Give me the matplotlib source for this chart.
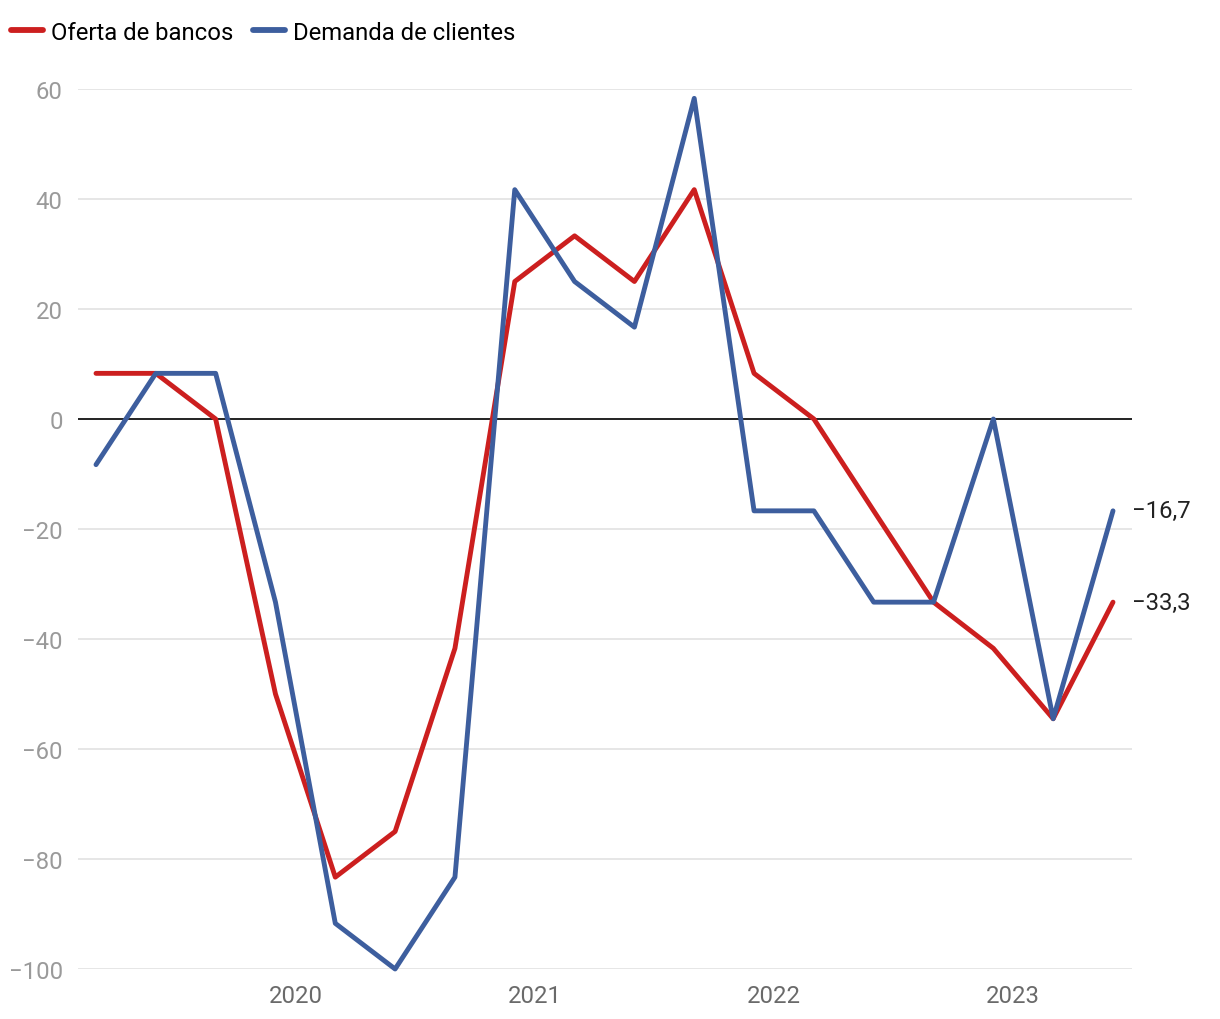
#!/usr/bin/env python3
"""Oferta de bancos vs demanda de clientes, quarterly balance (2019-2023)."""
import matplotlib
matplotlib.use("Agg")
import matplotlib.pyplot as plt

# quarterly observations, first point in early 2019
start_year = 2019 + 2 / 12
oferta = [8.3, 8.3, 0, -50, -83.3, -75, -41.7, 25, 33.3, 25, 41.7,
          8.3, 0, -16.7, -33.3, -41.7, -54.5, -33.3]
demanda = [-8.3, 8.3, 8.3, -33.3, -91.7, -100, -83.3, 41.7, 25, 16.7, 58.3,
           -16.7, -16.7, -33.3, -33.3, 0, -54.5, -16.7]
years = [2020, 2021, 2022, 2023]
yticks = [-100, -80, -60, -40, -20, 0, 20, 40, 60]

RED = "#cc1f1f"
BLUE = "#3d5e9e"
FS = 17.2

plt.rcParams["font.family"] = ["Roboto", "DejaVu Sans"]

x = [start_year + 0.25 * i for i in range(len(oferta))]

fig = plt.figure(figsize=(12.2, 10.2), dpi=100)
ax = fig.add_axes([78 / 1220, 1 - 970 / 1020, (1132 - 78) / 1220, (970 - 90) / 1020])

for v in yticks:
    if v == 0:
        continue
    ax.axhline(v, color="#e2e2e2", lw=1.2, zorder=1)
ax.axhline(0, color="#111111", lw=1.3, zorder=2)

ax.plot(x, oferta, color=RED, lw=3.5, label="Oferta de bancos",
        solid_capstyle="round", solid_joinstyle="round", zorder=3, clip_on=False)
ax.plot(x, demanda, color=BLUE, lw=3.5, label="Demanda de clientes",
        solid_capstyle="round", solid_joinstyle="round", zorder=4, clip_on=False)

def fmt(v):
    return f"{v:.1f}".replace(".", ",").replace("-", "\u2212")

ax.annotate(fmt(demanda[-1]), (x[-1], demanda[-1]), xytext=(14, 0),
            textcoords="offset points", va="center", ha="left",
            fontsize=FS, color="#222222")
ax.annotate(fmt(oferta[-1]), (x[-1], oferta[-1]), xytext=(14, 0),
            textcoords="offset points", va="center", ha="left",
            fontsize=FS, color="#222222")

ax.set_ylim(-100, 60)
span = 0.25 * (len(x) - 1)
px = span / (1113 - 96)
ax.set_xlim(x[0] - 18 * px, x[-1] + 19 * px)

ax.set_yticks(yticks)
ax.set_yticklabels([str(v).replace("-", "\u2212") for v in yticks])
ax.set_xticks(years)
ax.set_xticklabels([str(y) for y in years])
ax.tick_params(axis="y", length=0, pad=11, labelsize=FS, labelcolor="#9a9a9a")
ax.tick_params(axis="x", length=0, pad=11, labelsize=FS, labelcolor="#6a6a6a")
for s in ax.spines.values():
    s.set_visible(False)

leg = fig.legend(loc="center left", bbox_to_anchor=(11 / 1220, 1 - 33 / 1020),
                 ncol=2, frameon=False, fontsize=FS, handlelength=1.35,
                 handletextpad=0.32, columnspacing=0.82, borderpad=0,
                 borderaxespad=0)
for h in leg.get_lines():
    h.set_linewidth(4.2)
    h.set_solid_capstyle("round")

fig.savefig("out.png", dpi=100)
